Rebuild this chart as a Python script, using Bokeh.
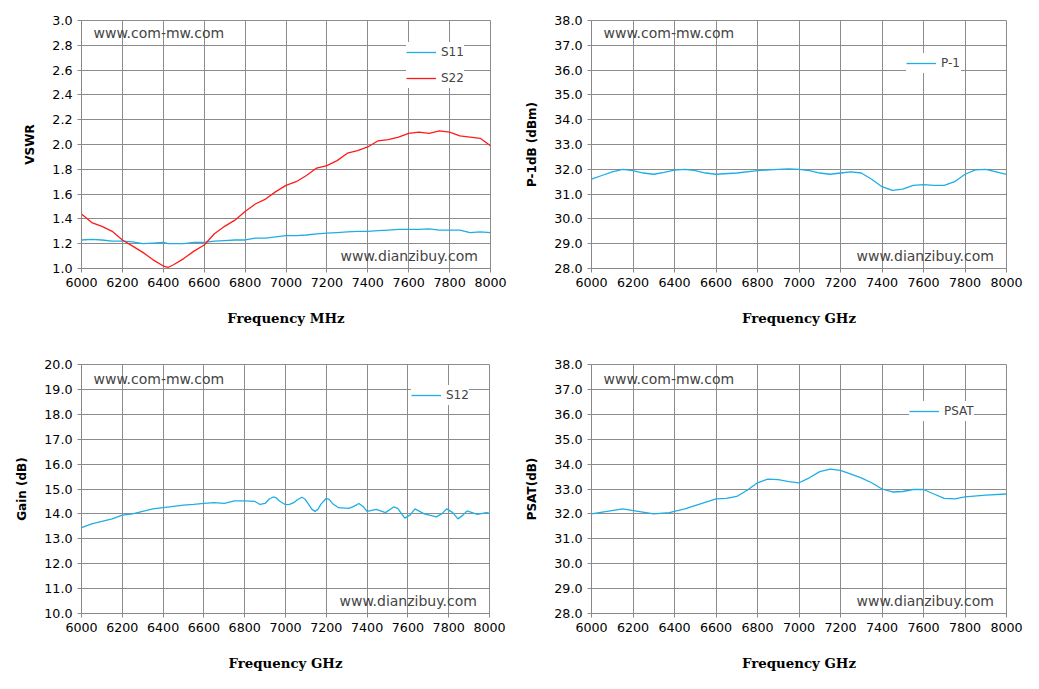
from bokeh.plotting import figure
from bokeh.layouts import gridplot
from bokeh.models import Label, Legend, LegendItem, FixedTicker, PrintfTickFormatter, Range1d
from bokeh.embed import file_html
from bokeh.resources import INLINE

# VSWR data (MHz)
f_vswr = [6000, 6050, 6100, 6150, 6200, 6250, 6300, 6350, 6400, 6425, 6450, 6500, 6550, 6600,
          6650, 6700, 6750, 6800, 6850, 6900, 6950, 7000, 7050, 7100, 7150, 7200, 7250, 7300,
          7350, 7400, 7450, 7500, 7550, 7600, 7650, 7700, 7750, 7800, 7850, 7900, 7950, 8000]
s11 = [1.23, 1.235, 1.23, 1.22, 1.22, 1.215, 1.20, 1.205, 1.21, 1.20, 1.20, 1.20, 1.21, 1.21,
       1.22, 1.225, 1.23, 1.23, 1.245, 1.245, 1.255, 1.265, 1.265, 1.27, 1.28, 1.285, 1.29, 1.295,
       1.30, 1.30, 1.305, 1.31, 1.315, 1.315, 1.315, 1.32, 1.31, 1.31, 1.31, 1.29, 1.295, 1.29]
s22 = [1.44, 1.37, 1.34, 1.30, 1.23, 1.18, 1.13, 1.07, 1.02, 1.01, 1.03, 1.08, 1.14, 1.19,
       1.28, 1.34, 1.39, 1.46, 1.52, 1.56, 1.62, 1.67, 1.70, 1.75, 1.81, 1.83, 1.87, 1.93,
       1.95, 1.98, 2.03, 2.04, 2.06, 2.09, 2.10, 2.09, 2.11, 2.10, 2.07, 2.06, 2.05, 1.99]

# P-1dB
f_p1 = [6000, 6050, 6100, 6150, 6200, 6250, 6300, 6350, 6400, 6450, 6500, 6550, 6600, 6700,
        6800, 6900, 6950, 7000, 7050, 7100, 7150, 7200, 7250, 7300, 7350, 7400, 7450, 7500,
        7550, 7600, 7650, 7700, 7750, 7800, 7850, 7900, 7950, 8000]
p1 = [31.6, 31.75, 31.9, 32.0, 31.95, 31.85, 31.8, 31.88, 31.97, 32.0, 31.95, 31.85, 31.8, 31.85,
      31.95, 32.0, 32.02, 32.0, 31.95, 31.85, 31.8, 31.85, 31.9, 31.85, 31.6, 31.3, 31.15, 31.2,
      31.35, 31.38, 31.35, 31.35, 31.5, 31.8, 31.98, 32.0, 31.9, 31.8]

# Gain S12
f_gain = [6000, 6050, 6100, 6150, 6200, 6250, 6300, 6350, 6400, 6450, 6500, 6550, 6600, 6650,
          6700, 6750, 6800, 6850, 6875, 6900, 6920, 6940, 6955, 6970, 7000, 7020, 7040, 7060,
          7080, 7095, 7110, 7130, 7145, 7160, 7175, 7200, 7215, 7230, 7260, 7310, 7335, 7360,
          7380, 7400, 7445, 7490, 7530, 7550, 7565, 7585, 7610, 7635, 7680, 7740, 7765, 7790,
          7820, 7845, 7870, 7890, 7940, 7985, 8000]
gain = [13.45, 13.6, 13.7, 13.8, 13.95, 14.0, 14.1, 14.2, 14.25, 14.3, 14.35, 14.38, 14.42, 14.45,
        14.42, 14.52, 14.52, 14.5, 14.38, 14.42, 14.6, 14.68, 14.64, 14.52, 14.37, 14.38, 14.45, 14.58,
        14.67, 14.6, 14.42, 14.18, 14.1, 14.2, 14.4, 14.63, 14.57, 14.42, 14.25, 14.22, 14.3, 14.42,
        14.3, 14.1, 14.18, 14.05, 14.28, 14.22, 14.05, 13.83, 13.95, 14.2, 14.0, 13.88, 14.0, 14.2,
        14.05, 13.8, 13.95, 14.12, 13.98, 14.05, 14.02]

# PSAT
f_psat = [6000, 6075, 6150, 6225, 6300, 6375, 6450, 6525, 6600, 6650, 6700, 6750, 6800, 6850,
          6900, 6950, 7000, 7050, 7100, 7150, 7200, 7250, 7300, 7350, 7400, 7450, 7500, 7550,
          7600, 7650, 7700, 7750, 7800, 7900, 8000]
psat = [32.0, 32.1, 32.2, 32.1, 32.0, 32.05, 32.2, 32.4, 32.6, 32.62, 32.7, 32.95, 33.25, 33.4,
        33.38, 33.3, 33.25, 33.45, 33.7, 33.8, 33.75, 33.6, 33.45, 33.25, 33.0, 32.88, 32.9, 32.98,
        32.98, 32.8, 32.62, 32.6, 32.68, 32.75, 32.8]

x_ticks = list(range(6000, 8001, 200))
CYAN = "#1eaee6"
RED = "#ff1a1a"


def make(ylab, xlab, ymin, ymax, ystep, fmt, ml, mt, mb, pw, ph):
    p = figure(width=ml + pw + 30, height=mt + ph + mb, output_backend="svg",
               toolbar_location=None, x_range=Range1d(6000, 8000), y_range=Range1d(ymin, ymax),
               min_border_left=ml, min_border_right=30, min_border_top=mt, min_border_bottom=mb)
    p.xaxis.ticker = FixedTicker(ticks=x_ticks)
    n = int(round((ymax - ymin) / ystep))
    p.yaxis.ticker = FixedTicker(ticks=[ymin + i * ystep for i in range(n + 1)])
    p.yaxis.formatter = PrintfTickFormatter(format=fmt)
    for ax in (p.xaxis, p.yaxis):
        ax.major_label_text_font = "DejaVu Sans"
        ax.major_label_text_font_size = "9.5pt"
        ax.major_label_text_color = "#000000"
        ax.axis_line_color = "#888888"
        ax.major_tick_line_color = "#888888"
        ax.major_tick_out = 4
        ax.major_tick_in = 0
        ax.minor_tick_line_color = None
        ax.axis_label_text_font_style = "bold"
        ax.axis_label_text_color = "#000000"
    p.xaxis.axis_label = xlab
    p.xaxis.axis_label_text_font = "DejaVu Serif"
    p.xaxis.axis_label_text_font_size = "10pt"
    p.xaxis.axis_label_standoff = 20
    p.yaxis.axis_label = ylab
    p.yaxis.axis_label_text_font = "DejaVu Sans"
    p.yaxis.axis_label_text_font_size = "9pt"
    p.yaxis.axis_label_standoff = 12
    p.grid.grid_line_color = "#8c8c8c"
    p.grid.grid_line_alpha = 1
    p.outline_line_color = "#8c8c8c"
    p.add_layout(Label(x=12, y=ph - 22, x_units="screen", y_units="screen",
                       text="www.com-mw.com", text_font="DejaVu Sans", text_font_size="10.5pt"))
    p.add_layout(Label(x=pw - 150, y=5, x_units="screen", y_units="screen",
                       text="www.dianzibuy.com", text_font="DejaVu Sans", text_font_size="10.5pt"))
    return p


def legend(p, items, x, y):
    lg = Legend(items=items, location=(x, y), border_line_color=None,
                background_fill_color="white", background_fill_alpha=1,
                label_text_font="DejaVu Sans", label_text_font_size="9pt",
                glyph_width=30, spacing=6, padding=8)
    p.add_layout(lg)


p1f = make("VSWR", "Frequency MHz", 1.0, 3.0, 0.2, "%.1f", 81, 18, 77, 409, 250)
a = p1f.line(f_vswr, s11, color=CYAN, line_width=1.3)
b = p1f.line(f_vswr, s22, color=RED, line_width=1.3)
legend(p1f, [LegendItem(label="S11", renderers=[a]), LegendItem(label="S22", renderers=[b])], 325, 180)

p2f = make("P-1dB (dBm)", "Frequency GHz", 28.0, 38.0, 1.0, "%.1f", 71, 20, 75, 415, 250)
c = p2f.line(f_p1, p1, color=CYAN, line_width=1.3)
legend(p2f, [LegendItem(label="P-1", renderers=[c])], 315, 195)

p3f = make("Gain (dB)", "Frequency GHz", 10.0, 20.0, 1.0, "%.1f", 81, 19, 70, 408, 249)
d = p3f.line(f_gain, gain, color=CYAN, line_width=1.3)
legend(p3f, [LegendItem(label="S12", renderers=[d])], 330, 208)

p4f = make("PSAT(dB)", "Frequency GHz", 28.0, 38.0, 1.0, "%.1f", 71, 19, 70, 415, 249)
e = p4f.line(f_psat, psat, color=CYAN, line_width=1.3)
legend(p4f, [LegendItem(label="PSAT", renderers=[e])], 318, 192)

grid = gridplot([[p1f, p2f], [p3f, p4f]], toolbar_location=None)
open("out.html", "w").write(file_html(grid, INLINE))
